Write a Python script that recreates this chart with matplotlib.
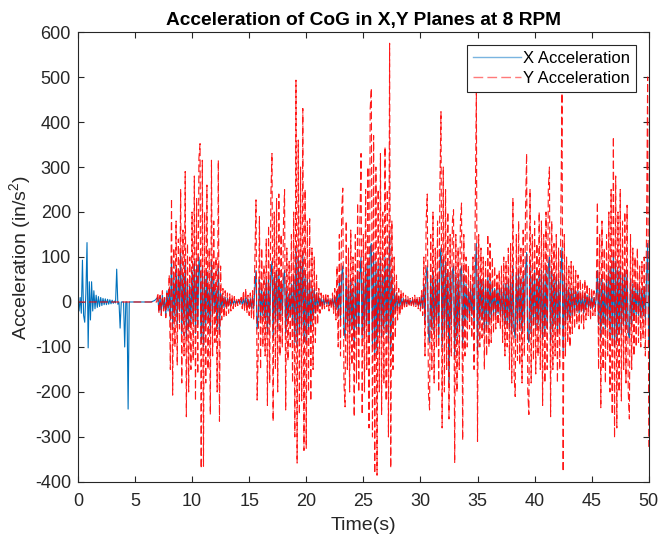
import numpy as np
import matplotlib
matplotlib.use("Agg")
import matplotlib.pyplot as plt

plt.rcParams["font.family"] = ["Liberation Sans", "DejaVu Sans"]
plt.rcParams["mathtext.default"] = "regular"
plt.rcParams["axes.unicode_minus"] = False

DT = 0.1  # sample spacing (s)

# X acceleration, one row per second (in/s^2)
x_acc = [
    0, -20, 10, -25, 93, -30, -45, 20, 132, -102,
    45, -40, 45, -20, 25, -15, 15, -12, 12, -10,
    10, -8, 8, -6, 7, -6, 6, -5, 5, -4,
    4, -3, 2, -2, 73, -5, 0, -58, 0, 0,
    0, -100, 0, 0, -238, 0, 0, 0, 0, 0,
    0, 0, 0, 0, 0, 0, 0, 0, 0, 0,
    0, 0, 0, 0, 0, 1, 2, 3, 5, 8,
    10, -20, 12, -25, 15, -15, 8, -30, 25, -20,
    30, -40, 100, -60, 50, -30, 80, -50, 60, -20,
    110, -70, 60, -40, 90, -80, 50, -60, 40, -50,
    70, -40, 90, -70, 80, -50, 100, 60, -90, 80,
    -100, 60, -50, 70, -40, 30, -70, 90, -30, 50,
    -20, 30, -60, 80, -70, 20, -15, 12, -12, 10,
    -10, 8, -8, 6, -6, 5, -5, 4, -4, 3,
    -3, 3, -2, 4, -6, 8, -8, 10, -10, 6,
    -12, 8, -14, 10, -15, 30, 70, -60, -30, 50,
    -40, 30, -30, 20, -40, 50, -70, 50, -50, 60,
    90, -80, 60, -40, 70, -60, 70, -30, 40, -30,
    50, 70, -70, 30, -40, 20, -30, 40, -50, 60,
    -90, 120, -100, 100, -70, 90, -60, 110, -90, 70,
    -90, 50, -60, 50, -60, 30, -40, 30, -25, 20,
    -15, 12, -10, 8, -8, 6, -6, 8, -4, 6,
    -8, 4, -6, 8, -10, 12, -15, 25, -30, 50,
    -40, 60, 80, -60, -80, 60, -50, 40, -70, 50,
    -50, 30, -100, 50, -60, 70, -70, 60, 100, -80,
    50, -70, 80, -50, 90, -90, 120, 130, -100, 110,
    -120, 90, -110, 80, -70, 100, -80, 60, -60, 100,
    -70, 80, -90, 150, -110, 60, -50, 30, -25, 20,
    -15, 12, -10, 10, -8, 8, -6, 6, -5, 5,
    -5, 4, -4, 5, -6, 6, -5, 6, -8, 6,
    -10, 12, -15, 40, -50, 60, 80, -70, -90, 50,
    -60, 70, -70, 50, -40, 60, -80, 90, 120, -100,
    100, -80, 90, -60, 70, -180, 60, -50, 70, 80,
    -120, 60, -80, 50, -60, 70, 80, -100, 60, -50,
    40, -40, 30, -30, 30, -30, 40, -60, 70, 130,
    -110, 60, -40, 50, -40, 50, -70, 40, -60, 60,
    -50, 50, -40, 40, -30, 30, -30, 30, -25, 30,
    -30, 30, -40, 40, -50, 40, -50, 50, -60, 50,
    -70, 80, -60, -80, 60, -50, 70, -60, 50, -70,
    60, -50, 70, 110, -80, -90, 90, -70, 60, -50,
    70, -60, 50, -50, 70, -60, 70, -80, 60, -70,
    70, -60, 80, 100, -90, 70, -60, 50, -50, 60,
    -70, 50, -60, 70, 120, -110, 60, -50, 40, -40,
    30, -40, 30, -30, 30, -25, 25, -20, 25, -25,
    20, -20, 15, -25, 20, -15, 15, -12, 12, -15,
    12, -12, 10, -12, 8, 70, -50, 50, -80, 60,
    -50, 40, -60, 50, -40, 70, -70, 80, -80, 110,
    -100, 90, -90, 70, -70, 80, -70, 60, -50, 70,
    -60, 70, -70, -80, 50, -50, 40, -40, 30, -30,
    40, -30, 30, -35, 30, -30, 35, -40, 50, 130,
    -100,
]

# Y acceleration, one row per second (in/s^2); flat zero for the first 7 s
y_acc = [0] * 70 + [
    20, -25, 15, -30, 25, -20, 10, -35, 20, -15,
    60, -150, 230, -207, 120, -100, 180, -140, 140, -60,
    250, -180, 160, -120, 290, -255, 130, -200, 100, -150,
    200, -130, 280, -220, 230, -160, 320, 352, -370, 315,
    -365, 200, -180, 260, -150, 120, -250, 315, -120, 180,
    -90, 100, -200, 315, -265, 80, -40, 30, -35, 25,
    -30, 20, -25, 18, -20, 15, -15, 12, -10, 8,
    -8, 6, -5, 10, -15, 25, -20, 30, -25, 15,
    -30, 20, -35, 25, -40, 100, 227, -218, -100, 190,
    -150, 120, -100, 80, -120, 140, -230, 170, -180, 237,
    330, -265, 200, -150, 230, -200, 240, -120, 150, -100,
    170, 250, -240, 120, -130, 90, -100, 150, -180, 200,
    -300, 493, -358, 360, -250, 300, -220, 430, -330, 250,
    -325, 180, -200, 185, -220, 120, -150, 100, -90, 60,
    -50, 30, -25, 20, -20, 15, -15, 20, -10, 15,
    -20, 10, -15, 20, -25, 30, -40, 80, -100, 150,
    -120, 200, 253, -180, -233, 180, -150, 120, -200, 160,
    -140, 100, -255, 150, -180, 220, -200, 180, 330, -250,
    150, -200, 250, -150, 300, -280, 430, 475, -300, 370,
    -381, 300, -385, 250, -200, 330, -250, 200, -180, 345,
    -220, 250, -300, 575, -369, 180, -150, 100, -80, 60,
    -40, 30, -30, 25, -20, 20, -15, 15, -10, 12,
    -10, 8, -8, 10, -12, 15, -10, 12, -15, 10,
    -20, 25, -30, 100, -120, 180, 240, -200, -240, 150,
    -150, 200, -180, 120, -100, 180, -200, 250, 423, -280,
    300, -200, 250, -150, 200, -260, 150, -120, 180, 205,
    -358, 150, -200, 120, -150, 180, 220, -307, 150, -120,
    100, -100, 80, -60, 60, -80, 100, -150, 200, 464,
    -310, 150, -100, 120, -80, 100, -150, 90, -120, 150,
    -100, 130, -90, 100, -70, 80, -60, 60, -50, 70,
    -60, 80, -90, 100, -120, 90, -100, 120, -150, 130,
    -180, 230, -160, -210, 150, -130, 180, -140, 120, -180,
    160, -120, 200, 330, -200, -250, 250, -180, 150, -130,
    180, -160, 130, -120, 200, -150, 180, -230, 150, -180,
    200, -150, 250, 300, -255, 180, -150, 130, -120, 150,
    -180, 120, -150, 200, 464, -377, 150, -120, 100, -90,
    80, -100, 90, -70, 80, -60, 70, -50, 60, -60,
    50, -50, 40, -60, 50, -40, 40, -30, 30, -40,
    30, -30, 25, -30, 20, 222, -150, 150, -235, 180,
    -150, 120, -180, 150, -120, 200, -200, 250, -250, 367,
    -302, 280, -280, 200, -200, 250, -220, 180, -150, 200,
    -180, 215, -200, -260, 150, -150, 120, -120, 100, -100,
    120, -90, 80, -100, 90, -80, 100, -120, 150, 500,
    -322,
]

assert len(x_acc) == 501, len(x_acc)
assert len(y_acc) == 501, len(y_acc)
t = np.arange(len(x_acc)) * DT

x_ticks = [0, 5, 10, 15, 20, 25, 30, 35, 40, 45, 50]
y_ticks = [-400, -300, -200, -100, 0, 100, 200, 300, 400, 500, 600]

fig = plt.figure(figsize=(6.6, 5.39), dpi=100)
ax = fig.add_axes([0.118, 0.1058, 0.865, 0.8348])

ax.plot(t, x_acc, color="#0072BD", lw=0.8, label="X Acceleration")
ax.plot(t, y_acc, color="red", lw=0.8, alpha=0.9, linestyle=(0, (7, 3)),
        label="Y Acceleration")

ax.set_xlim(0, 50)
ax.set_ylim(-400, 600)
ax.set_xticks(x_ticks)
ax.set_yticks(y_ticks)

axis_col = "#262626"
for s in ax.spines.values():
    s.set_color(axis_col)
    s.set_linewidth(0.8)
ax.tick_params(direction="in", length=4, width=0.8, top=True, right=True,
               colors=axis_col, labelsize=13)
ax.tick_params(axis="x", pad=8)
ax.tick_params(axis="y", pad=5)

ax.set_title("Acceleration of CoG in X,Y Planes at 8 RPM",
             fontsize=13.8, fontweight="bold", color="black", pad=5)
ax.set_xlabel("Time(s)", fontsize=14, color=axis_col, labelpad=5)
ax.set_ylabel("Acceleration (in/s$^2$)", fontsize=14, color=axis_col,
              labelpad=1)

leg = ax.legend(loc="upper right", bbox_to_anchor=(0.977, 0.971),
                borderaxespad=0, fontsize=12, handlelength=2.9,
                handletextpad=0.1, fancybox=False, framealpha=1,
                borderpad=0.35, labelspacing=0.3)
leg.get_frame().set_edgecolor(axis_col)
leg.get_frame().set_linewidth(0.8)
# lighter handles, as in the reference legend
leg_lines = leg.get_lines()
leg_lines[0].set_color("#7ab4e0")
leg_lines[1].set_color("#ff7a7a")
for line in leg_lines:
    line.set_alpha(1)
    line.set_linewidth(1.0)

fig.savefig("out.png", dpi=100)
